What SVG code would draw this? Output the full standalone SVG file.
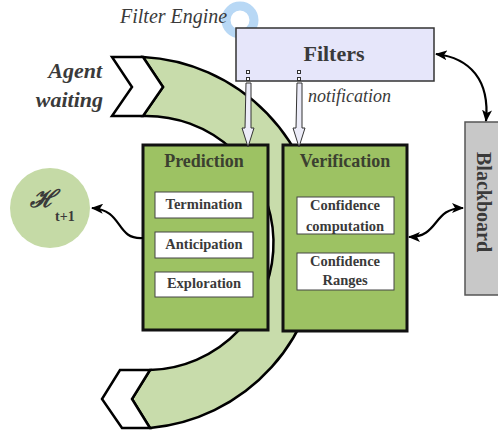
<svg xmlns="http://www.w3.org/2000/svg" width="498" height="433" viewBox="0 0 498 433">
<style>
.lbl{font-family:"Liberation Serif","Times New Roman",serif;fill:#3a3a3a}
.ttl{font-family:"Liberation Serif","Times New Roman",serif;font-weight:bold;font-size:18px;fill:#3b4030;text-anchor:middle}
.it{font-family:"Liberation Serif","Times New Roman",serif;font-weight:bold;font-size:14.5px;fill:#3a3a3a;text-anchor:middle}
.panel{fill:#9dc263;stroke:#111;stroke-width:3}
.item{fill:#fff;stroke:#444;stroke-width:1}
.conn{fill:none;stroke:#000;stroke-width:2.2}
.hollow{fill:#ececf8;stroke:#333;stroke-width:1}
.sq{fill:#fff;stroke:#333;stroke-width:1}
</style>
<defs>
<marker id="ah" viewBox="0 0 12 10" refX="11" refY="5" markerWidth="12" markerHeight="10" markerUnits="userSpaceOnUse" orient="auto-start-reverse">
<path d="M0,0 L12,5 L0,10 L3,5 Z" fill="#000"/>
</marker>
</defs>
<rect width="498" height="433" fill="#fff"/>

<g id="cycle">
<path d="M143,57 A186,186 0 0 1 150,428 L132,399 L150,370 A127,127 0 0 0 143,116 L163,87 Z" fill="#c8dcab" stroke="#000" stroke-width="2.5"/>
<polygon points="112,57 143,57 163,87 143,116 112,116 132,87" fill="#fff" stroke="#000" stroke-width="2.5"/>
<polygon points="120,370 150,370 132,399 150,428 122,428 102,399" fill="#fff" stroke="#000" stroke-width="2.5"/>
<text class="lbl" x="102" y="78" font-size="22" font-weight="bold" font-style="italic" text-anchor="end">Agent</text>
<text class="lbl" x="103" y="107" font-size="22" font-weight="bold" font-style="italic" text-anchor="end">waiting</text>
</g>

<g id="filter-engine">
<circle cx="240" cy="20" r="14" fill="none" stroke="#b8d8f5" stroke-width="9"/>
<text class="lbl" x="120" y="23" font-size="20" font-style="italic">Filter Engine</text>
</g>

<g id="filters">
<rect x="236" y="28" width="198" height="53" fill="#e6e6fa" stroke="#333" stroke-width="1.5"/>
<text class="lbl" x="334" y="61" font-size="22" font-weight="bold" text-anchor="middle">Filters</text>
<rect class="sq" x="246.5" y="70.5" width="3" height="3"/>
<rect class="sq" x="246.5" y="77.5" width="3" height="3"/>
<rect class="sq" x="297.5" y="70.5" width="3" height="3"/>
<rect class="sq" x="297.5" y="77.5" width="3" height="3"/>
</g>

<g id="prediction">
<rect class="panel" x="143" y="145" width="125" height="185"/>
<text class="ttl" x="204" y="167">Prediction</text>
<rect class="item" x="155" y="192" width="98" height="26"/>
<text class="it" x="204" y="209">Termination</text>
<rect class="item" x="155" y="232" width="98" height="26"/>
<text class="it" x="204" y="249">Anticipation</text>
<rect class="item" x="155" y="272" width="98" height="25"/>
<text class="it" x="204" y="288">Exploration</text>
</g>

<g id="verification">
<rect class="panel" x="283" y="145" width="124" height="186"/>
<text class="ttl" x="345" y="167">Verification</text>
<rect class="item" x="297" y="197" width="97" height="37"/>
<text class="it" x="345" y="210">Confidence</text>
<text class="it" x="345" y="231">computation</text>
<rect class="item" x="297" y="253" width="97" height="37"/>
<text class="it" x="345" y="266">Confidence</text>
<text class="it" x="345" y="285">Ranges</text>
</g>

<g id="blackboard">
<rect x="465" y="122" width="40" height="173" fill="#c8c8c8" stroke="#555" stroke-width="1.5"/>
<text class="lbl" transform="translate(477,202) rotate(90)" font-size="20" font-weight="bold" text-anchor="middle">Blackboard</text>
</g>

<g id="hypothesis">
<circle cx="50" cy="208" r="40" fill="#c5daa6"/>
<text x="30" y="207" font-family="'DejaVu Serif',serif" font-style="italic" font-weight="bold" font-size="24" fill="#3a3a3a">ℋ</text>
<text x="55" y="221" font-family="'Liberation Serif',serif" font-weight="bold" font-size="14" fill="#3a3a3a">t+1</text>
</g>

<g id="connectors">
<polygon class="hollow" points="246,83 251,83 251,128 254,128 248,147 242,128 245,128"/>
<polygon class="hollow" points="297,83 302,83 302,128 305,128 299,147 293,128 296,128"/>
<text class="lbl" x="308" y="102" font-size="18" font-style="italic">notification</text>
<path class="conn" d="M436,54 C470,58 490,80 486,121" marker-start="url(#ah)" marker-end="url(#ah)"/>
<path class="conn" d="M409,237 C440,237 432,208 463,208" marker-start="url(#ah)" marker-end="url(#ah)"/>
<path class="conn" d="M143,238 C115,240 124,210 92,208" marker-end="url(#ah)"/>
</g>
</svg>
